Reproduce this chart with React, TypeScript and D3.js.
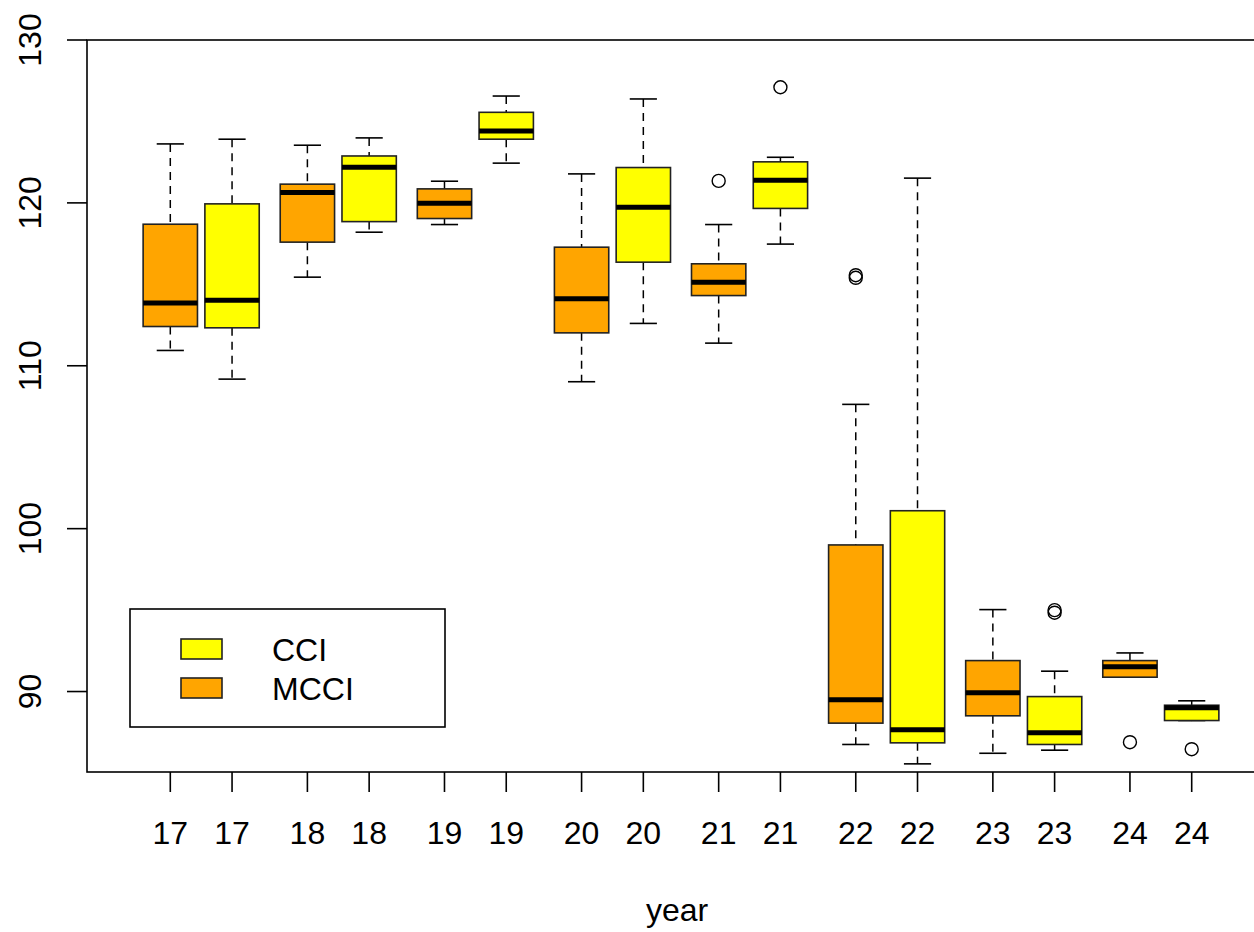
import * as d3 from "d3";
import React from "react";

// year groups, MCCI (orange) first then CCI (yellow) in each pair
const groups = ["17", "18", "19", "20", "21", "22", "23", "24"];

const lowMCCI = [110.94, 115.44, 118.67, 109.02, 111.39, 86.75, 86.21, 90.88];
const q1MCCI = [112.41, 117.59, 119.04, 112.02, 114.31, 88.06, 88.51, 90.88];
const medMCCI = [113.85, 120.63, 119.98, 114.11, 115.13, 89.49, 89.92, 91.52];
const q3MCCI = [118.69, 121.15, 120.86, 117.28, 116.26, 99.0, 91.9, 91.9];
const highMCCI = [123.62, 123.54, 121.33, 121.78, 118.67, 107.63, 95.03, 92.37];
const outMCCI = [[], [], [], [], [121.35], [115.4, 115.56], [], [86.89]];

const lowCCI = [109.18, 118.2, 122.44, 112.6, 117.47, 85.56, 86.4, 88.22];
const q1CCI = [112.33, 118.85, 123.91, 116.36, 119.66, 86.85, 86.75, 88.22];
const medCCI = [114.03, 122.19, 124.42, 119.73, 121.39, 87.65, 87.47, 89.0];
const q3CCI = [119.94, 122.88, 125.56, 122.17, 122.52, 101.1, 89.69, 89.16];
const highCCI = [123.91, 123.99, 126.56, 126.38, 122.8, 121.52, 91.25, 89.43];
const outCCI = [[], [], [], [], [127.1], [], [94.84, 95.0], [86.46]];

const yTicks = [90, 100, 110, 120, 130];

const W = 1254;
const H = 932;
const left = 87, right = 1268, top = 40, bottom = 772;
const font = "'Liberation Sans', Arial, sans-serif";
const fs = 32;

const ORANGE = "#FFA500";
const YELLOW = "#FFFF00";

// pair spacing 2.22 units, the two boxes in a pair 1 unit apart
const PAIR = 2.22;
const x = d3.scaleLinear().domain([0, 7 * PAIR + 1]).range([170.3, 1191.7]);
const unit = x(1) - x(0);
const y = d3.scaleLinear().domain([85.06, 130]).range([bottom, top]);

type Box = { pos: number; label: string; fill: string; lo: number; q1: number; med: number; q3: number; hi: number; out: number[] };

const boxes: Box[] = [];
groups.forEach((g, i) => {
  boxes.push({ pos: i * PAIR, label: g, fill: ORANGE, lo: lowMCCI[i], q1: q1MCCI[i], med: medMCCI[i], q3: q3MCCI[i], hi: highMCCI[i], out: outMCCI[i] });
  boxes.push({ pos: i * PAIR + 1, label: g, fill: YELLOW, lo: lowCCI[i], q1: q1CCI[i], med: medCCI[i], q3: q3CCI[i], hi: highCCI[i], out: outCCI[i] });
});

const legendItems = [
  { name: "CCI", fill: YELLOW },
  { name: "MCCI", fill: ORANGE },
];

export default function App() {
  const bw = unit * 0.88;
  const sw = bw / 2;
  const lw = 1.6;
  return (
    <svg width={W} height={H} style={{ position: "absolute", left: 0, top: 0, background: "#fff" }} fontFamily={font}>
      <rect x={0} y={0} width={W} height={H} fill="#fff" />
      {/* frame */}
      <rect x={left} y={top} width={right - left} height={bottom - top} fill="none" stroke="#000" strokeWidth={lw} />

      {/* y axis */}
      {yTicks.map((t) => (
        <g key={t}>
          <line x1={left - 20} x2={left} y1={y(t)} y2={y(t)} stroke="#000" strokeWidth={lw} />
          <text transform={`translate(41,${y(t)}) rotate(-90)`} textAnchor="middle" fontSize={fs} fill="#000">{t}</text>
        </g>
      ))}

      {/* x axis */}
      {boxes.map((b, i) => (
        <g key={"xt" + i}>
          <line x1={x(b.pos)} x2={x(b.pos)} y1={bottom} y2={bottom + 20} stroke="#000" strokeWidth={lw} />
          <text x={x(b.pos)} y={844} textAnchor="middle" fontSize={fs} fill="#000">{b.label}</text>
        </g>
      ))}
      <text x={677} y={921} textAnchor="middle" fontSize={fs} fill="#000">year</text>

      {/* boxes */}
      {boxes.map((b, i) => {
        const cx = x(b.pos);
        return (
          <g key={"b" + i}>
            <line x1={cx} x2={cx} y1={y(b.hi)} y2={y(b.q3)} stroke="#000" strokeWidth={1.5} strokeDasharray="8,6" />
            <line x1={cx} x2={cx} y1={y(b.q1)} y2={y(b.lo)} stroke="#000" strokeWidth={1.5} strokeDasharray="8,6" />
            <line x1={cx - sw / 2} x2={cx + sw / 2} y1={y(b.hi)} y2={y(b.hi)} stroke="#000" strokeWidth={lw} />
            <line x1={cx - sw / 2} x2={cx + sw / 2} y1={y(b.lo)} y2={y(b.lo)} stroke="#000" strokeWidth={lw} />
            <rect x={cx - bw / 2} y={y(b.q3)} width={bw} height={y(b.q1) - y(b.q3)} fill={b.fill} stroke="#222" strokeWidth={lw} />
            <line x1={cx - bw / 2} x2={cx + bw / 2} y1={y(b.med)} y2={y(b.med)} stroke="#000" strokeWidth={5} />
            {b.out.map((o, j) => (
              <circle key={j} cx={cx} cy={y(o)} r={6.5} fill="none" stroke="#000" strokeWidth={1.4} />
            ))}
          </g>
        );
      })}

      {/* legend */}
      <rect x={130} y={609} width={315} height={118} fill="#fff" stroke="#000" strokeWidth={lw} />
      {legendItems.map((l, i) => (
        <g key={l.name}>
          <rect x={181} y={639 + i * 39} width={41} height={20} fill={l.fill} stroke="#222" strokeWidth={lw} />
          <text x={272} y={661 + i * 39} fontSize={fs} fill="#000">{l.name}</text>
        </g>
      ))}
    </svg>
  );
}
